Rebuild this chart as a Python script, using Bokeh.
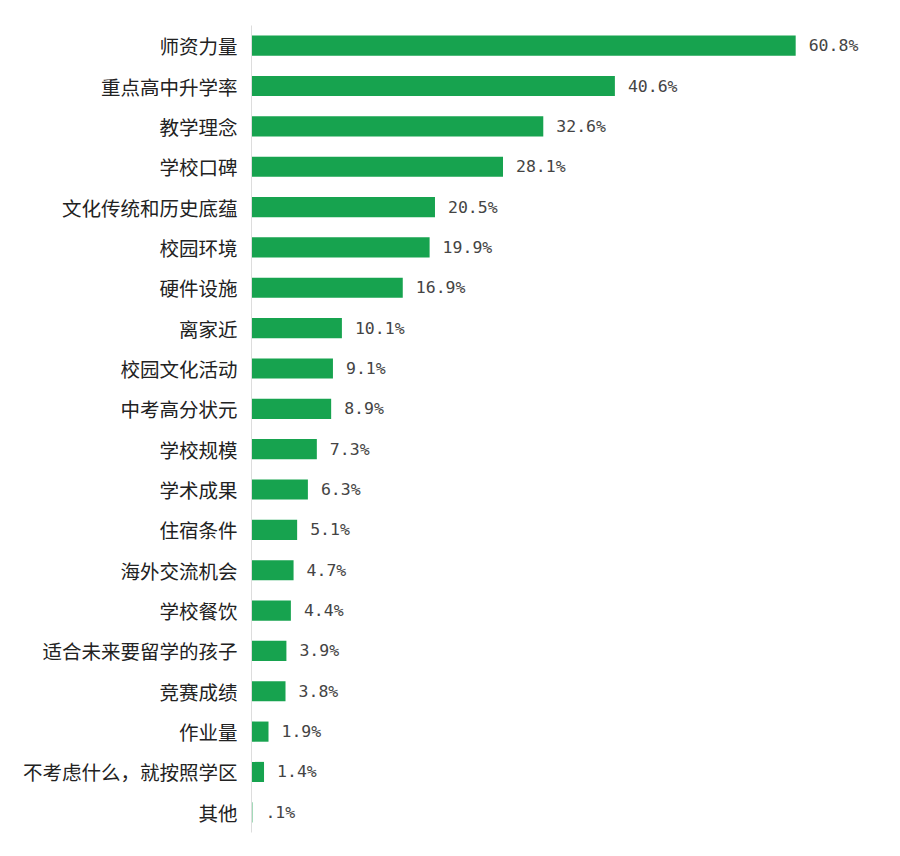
from bokeh.plotting import figure
from bokeh.models import ColumnDataSource, Range1d, FactorRange
from bokeh.core.properties import value
from bokeh.embed import file_html
from bokeh.resources import INLINE

categories = ["师资力量", "重点高中升学率", "教学理念", "学校口碑", "文化传统和历史底蕴",
              "校园环境", "硬件设施", "离家近", "校园文化活动", "中考高分状元",
              "学校规模", "学术成果", "住宿条件", "海外交流机会", "学校餐饮",
              "适合未来要留学的孩子", "竞赛成绩", "作业量", "不考虑什么，就按照学区", "其他"]
values = [60.8, 40.6, 32.6, 28.1, 20.5, 19.9, 16.9, 10.1, 9.1, 8.9,
          7.3, 6.3, 5.1, 4.7, 4.4, 3.9, 3.8, 1.9, 1.4, 0.1]
value_labels = ["60.8%", "40.6%", "32.6%", "28.1%", "20.5%", "19.9%", "16.9%", "10.1%",
                "9.1%", "8.9%", "7.3%", "6.3%", "5.1%", "4.7%", "4.4%", "3.9%",
                "3.8%", "1.9%", "1.4%", ".1%"]

src = ColumnDataSource(dict(cat=categories, val=values, lab=value_labels))

p = figure(width=884, height=840, output_backend="svg", toolbar_location=None,
           y_range=FactorRange(factors=list(reversed(categories))),
           x_range=Range1d(0, 70.5),
           min_border_left=251, min_border_right=2, min_border_top=25, min_border_bottom=8)

p.hbar(y="cat", right="val", left=0, height=0.5, source=src,
       fill_color="#17a34f", line_color=None)
p.text(x="val", y="cat", text="lab", source=src, x_offset=13,
       text_baseline="middle", text_align="left",
       text_font=value("DejaVu Sans Mono"), text_font_size="16.5px", text_color="#444444")

p.xaxis.visible = False
p.xgrid.visible = False
p.ygrid.visible = False
p.outline_line_color = None

ax = p.yaxis[0]
ax.axis_line_color = "#dddddd"
ax.major_tick_in = 0
ax.major_tick_out = 0
ax.minor_tick_in = 0
ax.minor_tick_out = 0
ax.major_label_standoff = 14
ax.major_label_text_font = "Noto Sans CJK SC"
ax.major_label_text_font_size = "19.5px"
ax.major_label_text_color = "#222222"

open("out.html", "w").write(file_html(p, INLINE))
